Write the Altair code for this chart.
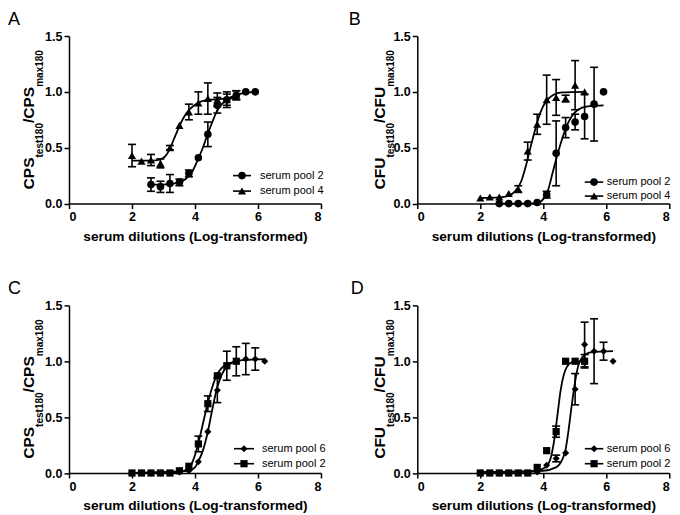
import altair as alt
import pandas as pd

FONT = "Liberation Sans"

X_TICKS = [0, 2, 4, 6, 8]
Y_TICKS = [0.0, 0.5, 1.0, 1.5]
X_TITLE = "serum dilutions (Log-transformed)"

# ---------------- Panel A (CPS) ----------------
A_P2_X = [2.602, 2.903, 3.204, 3.505, 3.806, 4.107, 4.408, 4.709, 5.010, 5.311, 5.612, 5.913]
A_P2_Y = [0.17, 0.15, 0.18, 0.19, 0.27, 0.41, 0.62, 0.88, 0.93, 0.97, 1.00, 1.00]
A_P2_E = [0.06, 0.05, 0.08, 0.03, 0.03, 0.00, 0.11, 0.07, 0.05, 0.04, 0.00, 0.00]
A_P4_X = [2.000, 2.301, 2.602, 2.903, 3.204, 3.505, 3.806, 4.107, 4.408, 4.709, 5.010, 5.311]
A_P4_Y = [0.43, 0.38, 0.39, 0.36, 0.50, 0.70, 0.82, 0.90, 0.94, 0.93, 0.93, 0.97]
A_P4_E = [0.10, 0.00, 0.05, 0.04, 0.02, 0.00, 0.07, 0.10, 0.14, 0.06, 0.07, 0.04]
A_FIT2_X = [2.602, 3.2, 3.5, 3.7, 3.9, 4.1, 4.25, 4.4, 4.55, 4.7, 4.85, 5.0, 5.3, 5.6, 5.913]
A_FIT2_Y = [0.17, 0.175, 0.19, 0.22, 0.28, 0.40, 0.50, 0.62, 0.73, 0.83, 0.89, 0.93, 0.97, 0.99, 1.00]
A_FIT4_X = [2.0, 2.6, 2.8, 3.0, 3.1, 3.2, 3.35, 3.5, 3.65, 3.8, 4.0, 4.2, 4.5, 5.0, 5.311]
A_FIT4_Y = [0.385, 0.385, 0.39, 0.41, 0.44, 0.49, 0.59, 0.69, 0.775, 0.835, 0.885, 0.915, 0.93, 0.94, 0.945]

# ---------------- Panel B (CFU) ----------------
B_P2_X = [2.602, 2.903, 3.204, 3.505, 3.806, 4.107, 4.408, 4.709, 5.010, 5.311, 5.612, 5.913]
B_P2_Y = [0.00, 0.00, 0.00, 0.00, 0.01, 0.08, 0.45, 0.68, 0.73, 0.78, 0.89, 1.00]
B_P2_E = [0.00, 0.00, 0.00, 0.00, 0.00, 0.03, 0.29, 0.09, 0.07, 0.20, 0.33, 0.00]
B_P4_X = [2.000, 2.301, 2.602, 2.903, 3.204, 3.505, 3.806, 4.107, 4.408, 4.709, 5.010, 5.311]
B_P4_Y = [0.05, 0.06, 0.06, 0.09, 0.13, 0.47, 0.71, 0.93, 0.95, 0.94, 1.06, 1.00]
B_P4_E = [0.00, 0.00, 0.00, 0.00, 0.03, 0.08, 0.09, 0.22, 0.16, 0.03, 0.22, 0.00]
B_FIT2_X = [2.602, 3.8, 4.0, 4.15, 4.3, 4.45, 4.6, 4.75, 4.9, 5.1, 5.4, 5.913]
B_FIT2_Y = [0.0, 0.005, 0.04, 0.12, 0.28, 0.44, 0.58, 0.70, 0.78, 0.84, 0.87, 0.88]
B_FIT4_X = [2.0, 2.6, 2.9, 3.1, 3.3, 3.45, 3.6, 3.75, 3.9, 4.1, 4.3, 4.6, 5.311]
B_FIT4_Y = [0.05, 0.055, 0.07, 0.11, 0.20, 0.34, 0.51, 0.67, 0.81, 0.92, 0.97, 0.995, 1.0]

# ---------------- Panel C (CPS) ----------------
C_P6_X = [2.000, 2.301, 2.602, 2.903, 3.204, 3.505, 3.806, 4.107, 4.408, 4.709, 5.010, 5.311, 5.612, 5.913, 6.214]
C_P6_Y = [0.00, 0.00, 0.00, 0.00, 0.00, 0.01, 0.02, 0.10, 0.37, 0.74, 0.96, 1.00, 1.02, 1.02, 1.00]
C_P6_E = [0.00, 0.00, 0.00, 0.00, 0.00, 0.00, 0.00, 0.00, 0.00, 0.11, 0.00, 0.00, 0.14, 0.10, 0.00]
C_P2_X = [2.000, 2.301, 2.602, 2.903, 3.204, 3.505, 3.806, 4.107, 4.408, 4.709, 5.010, 5.311]
C_P2_Y = [0.00, 0.00, 0.00, 0.00, 0.00, 0.02, 0.06, 0.26, 0.62, 0.87, 0.96, 1.00]
C_P2_E = [0.00, 0.00, 0.00, 0.00, 0.00, 0.00, 0.00, 0.07, 0.07, 0.00, 0.13, 0.13]
C_FIT6_X = [2.0, 3.8, 4.0, 4.1, 4.25, 4.4, 4.55, 4.7, 4.85, 5.0, 5.2, 5.5, 6.214]
C_FIT6_Y = [0.0, 0.02, 0.05, 0.10, 0.20, 0.36, 0.57, 0.76, 0.88, 0.95, 0.99, 1.01, 1.02]
C_FIT2_X = [2.0, 3.5, 3.8, 3.95, 4.1, 4.25, 4.4, 4.55, 4.7, 4.85, 5.0, 5.311]
C_FIT2_Y = [0.0, 0.01, 0.04, 0.12, 0.26, 0.44, 0.62, 0.77, 0.88, 0.94, 0.97, 1.0]

# ---------------- Panel D (CFU) ----------------
D_P6_X = [2.000, 2.301, 2.602, 2.903, 3.204, 3.505, 3.806, 4.107, 4.408, 4.709, 5.010, 5.311, 5.612, 5.913, 6.214]
D_P6_Y = [0.00, 0.00, 0.00, 0.00, 0.00, 0.00, 0.01, 0.07, 0.13, 0.18, 0.75, 1.15, 1.09, 1.09, 1.00]
D_P6_E = [0.00, 0.00, 0.00, 0.00, 0.00, 0.00, 0.00, 0.00, 0.03, 0.00, 0.14, 0.20, 0.29, 0.08, 0.00]
D_P2_X = [2.000, 2.301, 2.602, 2.903, 3.204, 3.505, 3.806, 4.107, 4.408, 4.709, 5.010, 5.311]
D_P2_Y = [0.00, 0.00, 0.00, 0.00, 0.00, 0.00, 0.05, 0.20, 0.37, 1.00, 1.00, 1.00]
D_P2_E = [0.00, 0.00, 0.00, 0.00, 0.00, 0.00, 0.00, 0.00, 0.05, 0.00, 0.00, 0.06]
D_FIT6_X = [2.0, 4.0, 4.4, 4.6, 4.7, 4.8, 4.9, 5.0, 5.1, 5.25, 5.5, 6.214]
D_FIT6_Y = [0.01, 0.02, 0.05, 0.12, 0.20, 0.38, 0.60, 0.80, 0.95, 1.04, 1.08, 1.09]
D_FIT2_X = [2.0, 3.5, 3.9, 4.1, 4.25, 4.35, 4.45, 4.55, 4.65, 4.75, 4.9, 5.311]
D_FIT2_Y = [0.01, 0.01, 0.03, 0.06, 0.15, 0.30, 0.52, 0.74, 0.88, 0.95, 0.99, 1.0]

W, H = 252, 167.6
SHAPES = {"circle": 58, "triangle-up": 66, "diamond": 50, "square": 52}


def xenc(field="x"):
    return alt.X(f"{field}:Q", scale=alt.Scale(domain=[0, 8], nice=False, zero=False),
                 axis=alt.Axis(values=X_TICKS, format="d", title=X_TITLE, titlePadding=6))


def yenc(field="y"):
    return alt.Y(f"{field}:Q", scale=alt.Scale(domain=[0, 1.5], nice=False),
                 axis=alt.Axis(values=Y_TICKS, format=".1f", title=None))


def panel(letter, letter_x, unit, title_x, series, leg_rows, leg_line, leg_text_x):
    layers = []
    for s in series:
        fit = pd.DataFrame({"x": s["fx"], "y": s["fy"]})
        layers.append(alt.Chart(fit).mark_line(interpolate="monotone", color="black", strokeWidth=1.8)
                      .encode(x=xenc(), y=yenc()))
    for s in series:
        df = pd.DataFrame({"x": s["x"], "y": s["y"], "err": s["e"]})
        eb = df[df["err"] > 0].copy()
        eb["lo"] = eb["y"] - eb["err"]
        eb["hi"] = eb["y"] + eb["err"]
        if len(eb):
            layers.append(alt.Chart(eb).mark_rule(color="black", strokeWidth=1.6)
                          .encode(x=xenc(), y=yenc("lo"), y2="hi:Q"))
            for end in ("lo", "hi"):
                layers.append(alt.Chart(eb).mark_rule(color="black", strokeWidth=1.6, xOffset=-4, x2Offset=4)
                              .encode(x=xenc(), x2="x:Q", y=yenc(end)))
        layers.append(alt.Chart(df).mark_point(shape=s["shape"], size=SHAPES[s["shape"]], filled=True,
                                               color="black", opacity=1)
                      .encode(x=xenc(), y=yenc()))
    # legend (manual, inside plot)
    for s, ry in zip(series, leg_rows):
        one = pd.DataFrame({"name": [s["name"]]})
        layers.append(alt.Chart(one).mark_rule(color="black", strokeWidth=1.6)
                      .encode(x=alt.value(leg_line[0]), x2=alt.value(leg_line[1]), y=alt.value(ry)))
        layers.append(alt.Chart(one).mark_point(shape=s["shape"], size=SHAPES[s["shape"]], filled=True,
                                                color="black", opacity=1)
                      .encode(x=alt.value((leg_line[0] + leg_line[1]) / 2), y=alt.value(ry)))
        layers.append(alt.Chart(one).mark_text(align="left", baseline="middle", font=FONT, fontSize=11,
                                               color="black")
                      .encode(x=alt.value(leg_text_x), y=alt.value(ry), text="name:N"))
    # y-axis title with subscripts
    pieces = [(unit, 15.5, 0, 0.0), ("test180", 10, 9, 31.9),
              ("/" + unit, 15.5, 0, 66.4), ("max180", 10, 9, 102.6)]
    y0 = H / 2 + 69.6
    for txt, fs, dy, dx in pieces:
        one = pd.DataFrame({"t": [txt]})
        layers.append(alt.Chart(one).mark_text(angle=270, align="left", baseline="alphabetic", font=FONT,
                                               fontSize=fs, fontWeight="bold", color="black", dx=dx, dy=dy)
                      .encode(x=alt.value(title_x), y=alt.value(y0), text="t:N"))
    # panel letter
    one = pd.DataFrame({"t": [letter]})
    layers.append(alt.Chart(one).mark_text(align="left", baseline="top", font=FONT, fontSize=18,
                                           color="black")
                  .encode(x=alt.value(letter_x), y=alt.value(-25), text="t:N"))
    return alt.layer(*layers).properties(width=W, height=H)


pA = panel("A", -61, "CPS", -35.5, [
    dict(name="serum pool 2", shape="circle", x=A_P2_X, y=A_P2_Y, e=A_P2_E, fx=A_FIT2_X, fy=A_FIT2_Y),
    dict(name="serum pool 4", shape="triangle-up", x=A_P4_X, y=A_P4_Y, e=A_P4_E, fx=A_FIT4_X, fy=A_FIT4_Y),
], [H - 28, H - 12.5], (164, 182), 191)

pB = panel("B", -68.5, "CFU", -32.5, [
    dict(name="serum pool 2", shape="circle", x=B_P2_X, y=B_P2_Y, e=B_P2_E, fx=B_FIT2_X, fy=B_FIT2_Y),
    dict(name="serum pool 4", shape="triangle-up", x=B_P4_X, y=B_P4_Y, e=B_P4_E, fx=B_FIT4_X, fy=B_FIT4_Y),
], [H - 21.5, H - 7.5], (167.5, 186), 189.5)

pC = panel("C", -61, "CPS", -35, [
    dict(name="serum pool 6", shape="diamond", x=C_P6_X, y=C_P6_Y, e=C_P6_E, fx=C_FIT6_X, fy=C_FIT6_Y),
    dict(name="serum pool 2", shape="square", x=C_P2_X, y=C_P2_Y, e=C_P2_E, fx=C_FIT2_X, fy=C_FIT2_Y),
], [H - 24.3, H - 9.3], (165, 185), 193)

pD = panel("D", -66.5, "CFU", -32.5, [
    dict(name="serum pool 6", shape="diamond", x=D_P6_X, y=D_P6_Y, e=D_P6_E, fx=D_FIT6_X, fy=D_FIT6_Y),
    dict(name="serum pool 2", shape="square", x=D_P2_X, y=D_P2_Y, e=D_P2_E, fx=D_FIT2_X, fy=D_FIT2_Y),
], [H - 24.3, H - 9.3], (167.5, 186), 189.5)

chart = alt.concat(pA, pB, pC, pD, columns=2, spacing={"row": 101.4, "column": 96.3}, bounds="flush").properties(
    padding={"top": 3, "left": 0, "right": 0, "bottom": 0}
).configure_view(stroke=None).configure_axis(
    grid=False, domainColor="black", domainWidth=1.5, tickColor="black", tickWidth=1.5, tickSize=5,
    labelFont=FONT, labelFontSize=12.5, labelFontWeight="bold", labelColor="black", labelPadding=2,
    titleFont=FONT, titleFontSize=13.7, titleFontWeight="bold", titleColor="black",
)

chart.save("out.html", embed_options={"renderer": "svg", "actions": False})
